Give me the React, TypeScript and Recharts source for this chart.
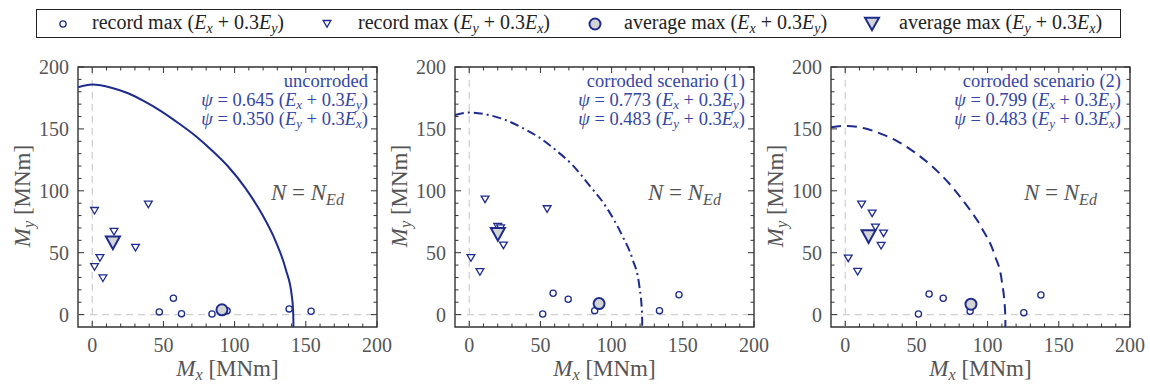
import React from 'react';
import { ComposedChart, Scatter, Line, XAxis, YAxis, ReferenceLine, ReferenceArea } from 'recharts';

const NAVY = '#1d2c8c';
const TXT_BLUE = '#3446a4';
const AXIS = '#333';
const GREY_TXT = '#555';
const FILL_GREY = '#d4d4d4';
const FONT = "'Liberation Serif', 'Times New Roman', serif";

const MAJOR_TICKS = [0, 50, 100, 150, 200];
const MINOR_TICKS = [0, 10, 20, 30, 40, 50, 60, 70, 80, 90, 100, 110, 120, 130, 140, 150, 160, 170, 180, 190, 200];

// geometry of each plot box
const PLOT_W = 299;
const PLOT_H = 260;
const PLOT_LEFT = [78, 455, 831];

// --- uncorroded ---
const curveUncorroded = [
  { x: -10, y: 183.6 }, { x: 0, y: 185.8 }, { x: 13.4, y: 183.3 }, { x: 25.2, y: 178.8 },
  { x: 37, y: 172 }, { x: 48.8, y: 164 }, { x: 60.6, y: 154.6 }, { x: 72.4, y: 144.4 },
  { x: 84.1, y: 132.5 }, { x: 95.9, y: 119 }, { x: 107.7, y: 102 }, { x: 119.5, y: 80.6 },
  { x: 128.9, y: 59 }, { x: 136, y: 36.3 }, { x: 140.2, y: 14.8 }, { x: 141.2, y: 0 }, { x: 141.3, y: -10 },
];
const recXUncorroded = [
  { x: 47.1, y: 2.2 }, { x: 57, y: 13.2 }, { x: 62.7, y: 0.8 }, { x: 84.1, y: 0.5 },
  { x: 94.7, y: 3.2 }, { x: 138.3, y: 4.6 }, { x: 153.7, y: 2.7 },
];
const recYUncorroded = [
  { x: 1.6, y: 84.1 }, { x: 39.4, y: 89.2 }, { x: 15.3, y: 67.2 }, { x: 30.4, y: 54.3 },
  { x: 5.4, y: 46 }, { x: 1.6, y: 38.7 }, { x: 7.5, y: 29.6 },
];
const avgXUncorroded = [{ x: 91.1, y: 3.9 }];
const avgYUncorroded = [{ x: 14.5, y: 58.4 }];

// --- corroded scenario (1) ---
const curveScen1 = [
  { x: -10, y: 161.3 }, { x: 0, y: 163.2 }, { x: 13.4, y: 161.3 }, { x: 25.2, y: 157.3 },
  { x: 37, y: 151 }, { x: 48.8, y: 143.3 }, { x: 60.6, y: 133 }, { x: 72.4, y: 121 },
  { x: 84.1, y: 104.8 }, { x: 95.9, y: 87.4 }, { x: 107.7, y: 63.2 }, { x: 114.8, y: 44.4 },
  { x: 119.5, y: 22.8 }, { x: 121.4, y: 0 }, { x: 121.5, y: -10 },
];
const recXScen1 = [
  { x: 58.9, y: 17.2 }, { x: 69.5, y: 12.4 }, { x: 51.6, y: 0.5 }, { x: 88.1, y: 3.2 },
  { x: 133.6, y: 3.2 }, { x: 147.3, y: 16.1 },
];
const recYScen1 = [
  { x: 11.1, y: 93.3 }, { x: 54.7, y: 85.5 }, { x: 20, y: 71.2 }, { x: 22, y: 70 },
  { x: 24, y: 56.2 }, { x: 1.2, y: 46 }, { x: 7.5, y: 34.7 },
];
const avgXScen1 = [{ x: 91.2, y: 8.9 }];
const avgYScen1 = [{ x: 20.1, y: 65.2 }];

// --- corroded scenario (2) ---
const curveScen2 = [
  { x: -10, y: 151.3 }, { x: 0, y: 152.4 }, { x: 13.4, y: 150.5 }, { x: 25.2, y: 146 },
  { x: 37, y: 139.8 }, { x: 48.8, y: 131 }, { x: 60.6, y: 120.2 }, { x: 72.4, y: 106.7 },
  { x: 84.1, y: 90 }, { x: 95.9, y: 70 }, { x: 105.3, y: 47 }, { x: 110, y: 26.9 },
  { x: 112.4, y: 0 }, { x: 112.5, y: -10 },
];
const recXScen2 = [
  { x: 58.9, y: 16.7 }, { x: 68.8, y: 13.2 }, { x: 51.4, y: 0.5 }, { x: 87.7, y: 2.7 },
  { x: 125.4, y: 1.6 }, { x: 137.4, y: 15.9 },
];
const recYScen2 = [
  { x: 11.5, y: 89.2 }, { x: 18.9, y: 82 }, { x: 21.2, y: 70.7 }, { x: 26.9, y: 65.9 },
  { x: 25.2, y: 55.9 }, { x: 2.1, y: 45.7 }, { x: 8.7, y: 34.9 },
];
const avgXScen2 = [{ x: 88.3, y: 8.4 }];
const avgYScen2 = [{ x: 16.4, y: 63.4 }];

const titles = ['uncorroded', 'corroded scenario (1)', 'corroded scenario (2)'];
const psiX = ['0.645', '0.773', '0.799'];
const psiY = ['0.350', '0.483', '0.483'];
const dashes = [undefined, '9 4 2 4', '10 6'];

const panels = [
  { curve: curveUncorroded, recX: recXUncorroded, recY: recYUncorroded, avgX: avgXUncorroded, avgY: avgYUncorroded },
  { curve: curveScen1, recX: recXScen1, recY: recYScen1, avgX: avgXScen1, avgY: avgYScen1 },
  { curve: curveScen2, recX: recXScen2, recY: recYScen2, avgX: avgXScen2, avgY: avgYScen2 },
];

const SmallCircle = (p: any) => <circle cx={p.cx} cy={p.cy} r={3.1} fill="#fff" stroke={NAVY} strokeWidth={1.3} />;
const BigCircle = (p: any) => <circle cx={p.cx} cy={p.cy} r={5.5} fill={FILL_GREY} stroke={NAVY} strokeWidth={2} />;
const SmallTri = (p: any) => (
  <path d={`M${p.cx - 3.9},${p.cy - 3}L${p.cx + 3.9},${p.cy - 3}L${p.cx},${p.cy + 3.6}Z`} fill="#fff" stroke={NAVY} strokeWidth={1.3} />
);
const BigTri = (p: any) => (
  <path d={`M${p.cx - 7},${p.cy - 5.8}L${p.cx + 7},${p.cy - 5.8}L${p.cx},${p.cy + 6.8}Z`} fill={FILL_GREY} stroke={NAVY} strokeWidth={2} />
);

const YTick = (props: any) => {
  const { x, y, payload } = props;
  const v = payload.value;
  const major = MAJOR_TICKS.includes(v);
  const len = major ? 6 : 3.5;
  return (
    <g>
      <line x1={x} y1={y} x2={x + len} y2={y} stroke={AXIS} strokeWidth={1} />
      <line x1={x + PLOT_W} y1={y} x2={x + PLOT_W - len} y2={y} stroke={AXIS} strokeWidth={1} />
      {major && (
        <text x={x - 9} y={y} textAnchor="end" dominantBaseline="central" fill={GREY_TXT} fontSize={20} style={{ fontFamily: FONT }}>
          {v}
        </text>
      )}
    </g>
  );
};

const XTick = (props: any) => {
  const { x, y, payload } = props;
  const v = payload.value;
  const major = MAJOR_TICKS.includes(v);
  const len = major ? 6 : 3.5;
  return (
    <g>
      <line x1={x} y1={y} x2={x} y2={y - len} stroke={AXIS} strokeWidth={1} />
      <line x1={x} y1={y - PLOT_H} x2={x} y2={y - PLOT_H + len} stroke={AXIS} strokeWidth={1} />
      {major && (
        <text x={x} y={y + 18} textAnchor="middle" dominantBaseline="central" fill={GREY_TXT} fontSize={20} style={{ fontFamily: FONT }}>
          {v}
        </text>
      )}
    </g>
  );
};

const sub = (s: string) => <span style={{ fontSize: '0.7em', verticalAlign: '-0.25em', fontStyle: 'italic', lineHeight: 0 }}>{s}</span>;
const Ex = () => <><i>E</i>{sub('x')}</>;
const Ey = () => <><i>E</i>{sub('y')}</>;
const comboX = () => <>(<Ex /> + 0.3<Ey />)</>;
const comboY = () => <>(<Ey /> + 0.3<Ex />)</>;

function Panel({ idx }: { idx: number }) {
  const p = panels[idx];
  const left = PLOT_LEFT[idx];
  const line = { height: 19, lineHeight: '19px' };
  return (
    <>
      <div style={{ position: 'absolute', left: left - 78, top: 0 }}>
        <ComposedChart width={400} height={386} margin={{ top: 67, right: 23, bottom: 29, left: 28 }}>
          <XAxis type="number" dataKey="x" domain={[-10, 200]} ticks={MINOR_TICKS} interval={0}
            allowDataOverflow tick={<XTick />} tickLine={false} axisLine={false} tickSize={0} tickMargin={0} height={30} />
          <YAxis type="number" dataKey="y" domain={[-10, 200]} ticks={MINOR_TICKS} interval={0}
            allowDataOverflow tick={<YTick />} tickLine={false} axisLine={false} tickSize={0} tickMargin={0} width={50} />
          <ReferenceLine x={0} stroke="#cfcfcf" strokeDasharray="7 5" strokeWidth={1.2} />
          <ReferenceLine y={0} stroke="#cfcfcf" strokeDasharray="7 5" strokeWidth={1.2} />
          <Line data={p.curve} dataKey="y" type="monotone" stroke={NAVY} strokeWidth={2}
            strokeDasharray={dashes[idx]} dot={false} activeDot={false} isAnimationActive={false} />
          <Scatter data={p.recX} dataKey="y" shape={SmallCircle} isAnimationActive={false} />
          <Scatter data={p.recY} dataKey="y" shape={SmallTri} isAnimationActive={false} />
          <Scatter data={p.avgX} dataKey="y" shape={BigCircle} isAnimationActive={false} />
          <Scatter data={p.avgY} dataKey="y" shape={BigTri} isAnimationActive={false} />
          <ReferenceArea x1={-10} x2={200} y1={-10} y2={200} fill="none" stroke={AXIS} strokeWidth={1.4} fillOpacity={0} />
        </ComposedChart>
      </div>
      <div style={{ position: 'absolute', left, top: 72, width: 290, textAlign: 'right', color: TXT_BLUE, fontSize: 18.5, fontFamily: FONT, pointerEvents: 'none', whiteSpace: 'nowrap' }}>
        <div style={line}>{titles[idx]}</div>
        <div style={line}><i>ψ</i> = {psiX[idx]} {comboX()}</div>
        <div style={line}><i>ψ</i> = {psiY[idx]} {comboY()}</div>
      </div>
      <div style={{ position: 'absolute', left, top: 180, width: 266, textAlign: 'right', color: GREY_TXT, fontSize: 23, fontFamily: FONT, pointerEvents: 'none', whiteSpace: 'nowrap' }}>
        <i>N</i> = <i>N</i><span style={{ fontSize: '0.7em', verticalAlign: '-0.3em', fontStyle: 'italic' }}>Ed</span>
      </div>
      <div style={{ position: 'absolute', left: left, top: 356, width: PLOT_W, textAlign: 'center', color: GREY_TXT, fontSize: 23, fontFamily: FONT, whiteSpace: 'nowrap' }}>
        <i>M</i>{sub('x')} [MNm]
      </div>
      <div style={{ position: 'absolute', left: left - 55, top: 197, width: 0, height: 0 }}>
        <div style={{ position: 'absolute', left: -70, top: -14, width: 140, textAlign: 'center', transform: 'rotate(-90deg)', color: GREY_TXT, fontSize: 23, fontFamily: FONT, whiteSpace: 'nowrap' }}>
          <i>M</i>{sub('y')} [MNm]
        </div>
      </div>
    </>
  );
}

function LegendBox() {
  const text = { position: 'absolute' as const, top: 1, fontSize: 20, fontFamily: FONT, color: '#222', whiteSpace: 'nowrap' as const };
  return (
    <div style={{ position: 'absolute', left: 36, top: 9, width: 1083, height: 27, border: '1.5px solid #222', background: '#fff' }}>
      <svg width={1083} height={27} style={{ position: 'absolute', left: 0, top: 0 }}>
        <SmallCircle cx={26} cy={14} />
        <SmallTri cx={290} cy={13.5} />
        <BigCircle cx={558} cy={14} />
        <BigTri cx={835} cy={13.5} />
      </svg>
      <div style={{ ...text, left: 55 }}>record max {comboX()}</div>
      <div style={{ ...text, left: 321 }}>record max {comboY()}</div>
      <div style={{ ...text, left: 587 }}>average max {comboX()}</div>
      <div style={{ ...text, left: 862 }}>average max {comboY()}</div>
    </div>
  );
}

export default function App() {
  return (
    <div style={{ position: 'absolute', left: 0, top: 0, width: 1150, height: 386, background: '#fff', overflow: 'hidden' }}>
      <Panel idx={0} />
      <Panel idx={1} />
      <Panel idx={2} />
      <LegendBox />
    </div>
  );
}
